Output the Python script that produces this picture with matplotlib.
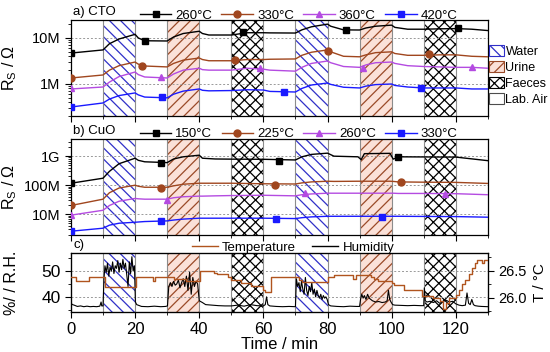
import numpy as np
import matplotlib
matplotlib.use('Agg')
import matplotlib.pyplot as plt
from matplotlib.patches import Patch
from matplotlib.lines import Line2D
from matplotlib.ticker import LogLocator, FuncFormatter, MultipleLocator, NullFormatter

plt.rcParams['font.family'] = ['Liberation Sans', 'DejaVu Sans']
plt.rcParams['mathtext.fontset'] = 'custom'
plt.rcParams['mathtext.rm'] = 'Liberation Sans'
plt.rcParams['mathtext.it'] = 'Liberation Sans:italic'
plt.rcParams['hatch.linewidth'] = 0.9

# ---------------- data ----------------
water_win = [(10, 20), (70, 80)]
urine_win = [(30, 40), (90, 100)]
faeces_win = [(50, 60), (110, 120)]

# panel a: CTO (resistance in Ohm, values in MOhm)
t_a = [0, 10, 12, 15, 20, 21, 23, 30, 32, 35, 40, 41, 43, 50, 55, 60, 62, 70, 72, 75,
       80, 81, 85, 90, 92, 95, 100, 101, 105, 110, 115, 120, 125, 130]
cto_260 = [4.7, 5.5, 7.5, 9.5, 12.0, 10.0, 8.7, 8.6, 10.5, 12.5, 14.0, 12.5, 11.6, 11.6, 13.0, 13.0, 12.9,
           12.8, 15.0, 17.5, 20.0, 18.0, 15.0, 14.9, 16.5, 18.0, 19.0, 17.0, 15.5, 15.5, 15.8, 16.0, 15.5, 14.5]
cto_330 = [1.35, 1.57, 2.0, 2.5, 3.0, 2.7, 2.46, 2.35, 2.8, 3.3, 3.67, 3.4, 3.2, 3.2, 3.4, 3.4, 3.45,
           3.5, 4.2, 4.9, 5.5, 5.0, 4.0, 3.9, 4.3, 4.8, 5.0, 4.6, 4.2, 4.2, 4.3, 4.3, 4.0, 3.9]
cto_360 = [0.78, 0.86, 1.1, 1.45, 1.82, 1.6, 1.42, 1.35, 1.65, 2.0, 2.2, 2.05, 2.0, 2.0, 2.2, 2.1, 2.0,
           1.9, 2.3, 2.8, 3.16, 2.9, 2.4, 2.3, 2.6, 2.9, 3.0, 2.8, 2.5, 2.4, 2.35, 2.3, 2.3, 2.2]
cto_420 = [0.316, 0.387, 0.47, 0.56, 0.64, 0.58, 0.52, 0.5, 0.6, 0.7, 0.78, 0.73, 0.71, 0.72, 0.75, 0.74, 0.69,
           0.67, 0.8, 0.95, 1.05, 0.98, 0.85, 0.82, 0.9, 0.97, 1.0, 0.93, 0.86, 0.82, 0.82, 0.82, 0.78, 0.78]
cto_labels = ['260°C', '330°C', '360°C', '420°C']
cto_mk_t = [[0, 23, 53.5, 85.7, 120.8], [0, 22, 51, 80, 111.5], [0, 28, 59, 91, 125], [0, 28.5, 66.5, 109]]
cto_mk_v = [[4.7, 8.7, 13.3, 14.6, 16.3], [1.35, 2.5, 3.3, 5.3, 4.4], [0.8, 1.45, 2.2, 2.26, 2.38],
            [0.32, 0.51, 0.66, 0.8]]

# panel b: CuO (values in MOhm)
t_b = [0, 10, 12, 15, 20, 21, 23, 30, 32, 35, 40, 41, 45, 50, 60, 70, 72, 75, 80, 82,
       89.5, 90.5, 91.5, 99.5, 100.5, 102, 110, 120, 130]
cuo_150 = [117, 174, 300, 550, 850, 720, 640, 600, 800, 950, 1080, 850, 800, 790, 780, 740, 950, 1150,
           1270, 1000, 950, 760, 1220, 1250, 790, 950, 940, 930, 700]
cuo_225 = [20, 33, 55, 80, 100, 92, 85, 85, 95, 108, 117, 117, 117, 117, 112, 110, 120, 130, 137, 135,
           137, 137, 137, 137, 135, 130, 127, 125, 115]
cuo_260 = [9.3, 13.7, 20, 28, 35, 34, 33, 33, 37, 40, 42, 42, 43, 44, 45, 43, 47, 50, 53, 53,
           53, 53, 53, 53, 53, 52, 52, 51, 47]
cuo_330 = [2.6, 3.3, 4.2, 4.9, 5.3, 5.4, 5.6, 5.9, 6.3, 6.8, 7.3, 7.3, 7.3, 7.3, 7.3, 7.1, 7.6, 8.1, 8.5, 8.5,
           8.5, 8.5, 8.5, 8.5, 8.5, 8.5, 8.4, 8.3, 7.9]
cuo_labels = ['150°C', '225°C', '260°C', '330°C']
cuo_mk_t = [[0, 28, 65, 102], [0, 28, 63.5, 103], [0, 30, 73, 116.5], [0, 28, 64, 97]]
cuo_mk_v = [[117, 590, 690, 950], [20, 83, 100, 130], [9.3, 32, 52, 48], [2.6, 5.7, 6.6, 8.2]]

# panel c: temperature (steps) and humidity
t_T = [0, 1.6, 5.5, 10.7, 20.3, 25.5, 26.2, 30.5, 32, 36, 40.3, 44.7, 45.5, 49, 50, 53, 56, 60, 60.5, 62.5,
       70, 71, 72, 80.3, 82, 88, 89, 93.6, 94.6, 95.7, 100, 100.7, 104, 109.6, 113, 115, 116, 117, 118, 120,
       121, 122, 123, 124, 125, 126, 126.5, 128.3, 128.8, 130]
temp = [26.38, 26.31, 26.38, 26.2, 26.38, 26.31, 26.38, 26.38, 26.35, 26.31, 26.5, 26.47, 26.44, 26.38, 26.33,
        26.28, 26.22, 26.15, 26.11, 26.38, 26.38, 26.33, 26.3, 26.38, 26.43, 26.35, 26.43, 26.38, 26.35, 26.31,
        26.28, 26.24, 26.15, 26.04, 26.0, 25.94, 25.8, 25.9, 26.0, 26.06, 26.15, 26.25, 26.33, 26.45, 26.55,
        26.65, 26.7, 26.65, 26.7, 26.7]
t_H = [0, 0.5, 1, 2, 3, 4, 5, 6, 7, 8, 9, 9.4, 9.6, 10,
       10.3, 10.6, 11, 11.4, 11.8, 12.2, 12.6, 13, 13.4, 13.8, 14.2, 14.6, 15, 15.4, 15.8, 16.2, 16.6, 17, 17.4,
       17.8, 18.2, 18.6, 19, 19.4, 19.8, 20.1,
       20.5, 22, 24, 26, 28, 29.5,
       30.1, 30.5, 31, 31.5, 32, 32.5, 33, 33.5, 34, 34.5, 35, 35.5, 36, 36.5, 37, 37.5, 38, 38.5, 39, 39.5, 40,
       41, 42, 44, 46, 48, 50,
       52, 54, 56, 58, 60,
       60.6, 61, 61.4, 62, 64, 66, 68, 70,
       70.3, 70.7, 71.1, 71.5, 71.9, 72.3, 72.7, 73.1, 73.5, 73.9, 74.3, 74.7, 75.1, 75.5, 75.9, 76.3, 76.7,
       77.1, 77.5, 77.9, 78.3, 78.7, 79.1, 79.5, 79.9, 80.3,
       81, 83, 85, 87, 89, 90,
       90.3, 90.7, 91.1, 91.5, 92, 92.5, 93, 93.5, 94, 95, 96, 97, 98, 98.6, 99, 99.4, 99.8, 100.3,
       101, 103, 105, 107, 109, 110,
       110.2, 110.5, 111, 112, 113, 114, 115, 116, 117, 118, 119, 120,
       121, 122, 123, 123.5, 124, 124.5, 125, 125.5, 126, 127, 128, 130]
hum = [37.5, 37, 36.8, 36.3, 36.5, 36.2, 36.4, 36.2, 36.3, 36.2, 36.4, 38, 36.5, 36.5,
       47, 52, 49.5, 53, 48, 51.5, 50, 53.5, 49, 52, 51, 54, 49.5, 53, 50.5, 54.5, 51, 53, 48.5,
       44, 53.5, 49, 55.5, 50, 52, 38,
       37, 36.3, 36.2, 36.4, 36.2, 36.3,
       36.5, 44, 45.5, 44, 46, 44.5, 45, 46.5, 43.5, 45.5, 47, 44, 48, 42.5, 49.5, 41, 47.5, 44, 46, 45, 38.5,
       37.8, 37, 36.8, 36.6, 36.5, 36.5,
       36.8, 36.4, 37, 36.6, 36.5,
       37, 40, 37, 36.5, 36.3, 36.2, 36.3, 36.2,
       47, 44, 45.5, 42, 46, 43, 41, 47.5, 42.5, 40.5, 44, 42, 45.5, 41, 43, 40, 42.5,
       40.5, 39.5, 41, 39, 40.5, 39.5, 40, 39, 37,
       36.5, 36.3, 36.2, 36.4, 36.3, 36.3,
       39, 41, 39.5, 40.5, 39, 41, 39.5, 39, 38.5, 38, 38.2, 37.8, 38, 38.5, 42.5, 39, 38, 37,
       36.8, 36.7, 36.6, 36.7, 36.6, 36.6,
       43.5, 38.5, 38, 38.3, 37.8, 38.5, 37.5, 38.2, 38.7, 38, 38.3, 37.3,
       36.8, 36.6, 36.8, 41.5, 37.5, 37, 39, 37, 36.6, 36.4, 36.3, 36.2]

colors = ['black', '#a0461e', '#b44be1', '#1a1aff']
markers = ['s', 'o', '^', 's']
WATER_H, URINE_H, FAECES_H = '\\\\\\', '///', 'xxx'

# ---------------- figure ----------------
fig = plt.figure(figsize=(5.5, 3.52), dpi=100)
L, W = 0.129, 0.758
ax_a = fig.add_axes([L, 0.670, W, 0.273])
ax_b = fig.add_axes([L, 0.332, W, 0.273])
ax_c = fig.add_axes([L, 0.114, W, 0.167])

def shade(ax):
    for a, b in water_win:
        ax.axvspan(a, b, facecolor='white', edgecolor='#3030c8', hatch=WATER_H, lw=0, zorder=0)
    for a, b in urine_win:
        ax.axvspan(a, b, facecolor='#fbe1d8', edgecolor='#9a4a28', hatch=URINE_H, lw=0, zorder=0)
    for a, b in faeces_win:
        ax.axvspan(a, b, facecolor='white', edgecolor='black', hatch=FAECES_H, lw=0, zorder=0)
    for a, b in water_win + urine_win + faeces_win:
        for x in (a, b):
            ax.axvline(x, color='0.55', lw=0.8, zorder=0.5)

def fmt_ohm(v, pos):
    if v >= 1e9:
        return '%gG' % (v / 1e9)
    if v >= 1e6:
        return '%gM' % (v / 1e6)
    if v >= 1e3:
        return '%gk' % (v / 1e3)
    return '%g' % v

for ax in (ax_a, ax_b, ax_c):
    shade(ax)
    ax.set_xlim(0, 130)
    ax.xaxis.set_major_locator(MultipleLocator(20))
    ax.xaxis.set_minor_locator(MultipleLocator(10))
    ax.tick_params(axis='both', which='both', direction='out')
    ax.tick_params(axis='x', which='major', length=4)
    ax.tick_params(axis='x', which='minor', length=2.5)
    for s in ax.spines.values():
        s.set_linewidth(0.9)

def log_axis(ax, lo, hi):
    ax.set_yscale('log')
    ax.set_ylim(lo, hi)
    ax.yaxis.set_major_locator(LogLocator(base=10, numticks=10))
    ax.yaxis.set_minor_locator(LogLocator(base=10, subs=np.arange(2, 10), numticks=10))
    ax.yaxis.set_major_formatter(FuncFormatter(fmt_ohm))
    ax.yaxis.set_minor_formatter(NullFormatter())
    ax.tick_params(axis='y', which='major', length=4, labelsize=10.5)
    ax.tick_params(axis='y', which='minor', length=2)
    ax.grid(True, axis='y', which='major', ls=(0, (2, 2)), color='0.6', lw=0.7)
    ax.set_axisbelow(True)
    ax.set_xticklabels([])

# panel a
for vals, lab, c, m, mt, mv in zip([cto_260, cto_330, cto_360, cto_420], cto_labels, colors, markers,
                                  cto_mk_t, cto_mk_v):
    ax_a.plot(t_a, np.array(vals) * 1e6, color=c, lw=1.0, zorder=3)
    ax_a.plot(mt, np.array(mv) * 1e6, ls='none', marker=m, color=c, ms=5, zorder=4)
log_axis(ax_a, 2.0e5, 2.45e7)
ax_a.set_ylabel(r'R$_\mathrm{S}$ / Ω', fontsize=11.5)
ax_a.yaxis.set_label_coords(-0.125, 0.5)
ax_a.text(0.005, 1.025, 'a) CTO', transform=ax_a.transAxes, fontsize=9.5, va='bottom', ha='left')
h_a = [Line2D([], [], color=c, marker=m, ms=5, lw=1.0) for c, m in zip(colors, markers)]
ax_a.legend(h_a, cto_labels, loc='lower left', bbox_to_anchor=(0.165, 0.985), ncol=4, frameon=False,
            fontsize=9.5, handlelength=2.4, handletextpad=0.3, columnspacing=0.7, borderpad=0,
            borderaxespad=0)

# panel b
for vals, lab, c, m, mt, mv in zip([cuo_150, cuo_225, cuo_260, cuo_330], cuo_labels, colors, markers,
                                  cuo_mk_t, cuo_mk_v):
    ax_b.plot(t_b, np.array(vals) * 1e6, color=c, lw=1.0, zorder=3)
    ax_b.plot(mt, np.array(mv) * 1e6, ls='none', marker=m, color=c, ms=5, zorder=4)
log_axis(ax_b, 10 ** 6.28, 10 ** 9.59)
ax_b.set_ylabel(r'R$_\mathrm{S}$ / Ω', fontsize=11.5)
ax_b.yaxis.set_label_coords(-0.125, 0.5)
ax_b.text(0.005, 1.025, 'b) CuO', transform=ax_b.transAxes, fontsize=9.5, va='bottom', ha='left')
h_b = [Line2D([], [], color=c, marker=m, ms=5, lw=1.0) for c, m in zip(colors, markers)]
ax_b.legend(h_b, cuo_labels, loc='lower left', bbox_to_anchor=(0.165, 0.985), ncol=4, frameon=False,
            fontsize=9.5, handlelength=2.4, handletextpad=0.3, columnspacing=0.7, borderpad=0,
            borderaxespad=0)

# panel c
ax_c.plot(t_H, hum, color='black', lw=0.8, zorder=3)
ax_c.set_ylim(34.2, 56.9)
ax_c.yaxis.set_major_locator(MultipleLocator(10))
ax_c.yaxis.set_minor_locator(MultipleLocator(5))
ax_c.tick_params(axis='y', which='major', length=4, labelsize=12.5)
ax_c.tick_params(axis='y', which='minor', length=2)
ax_c.tick_params(axis='x', labelsize=12)
ax_c.grid(True, axis='y', which='major', ls=(0, (2, 2)), color='0.6', lw=0.7)
ax_c.set_ylabel('%/ / R.H.', fontsize=11.5)
ax_c.yaxis.set_label_coords(-0.125, 0.5)
ax_c.set_xlabel('Time / min', fontsize=12, labelpad=0)
ax_c.text(0.005, 1.03, 'c)', transform=ax_c.transAxes, fontsize=9.5, va='bottom', ha='left')

ax_t = ax_c.twinx()
ax_t.plot(t_T, temp, color='#b0541e', lw=1.0, drawstyle='steps-post', zorder=3)
ax_t.set_ylim(25.74, 26.83)
ax_t.yaxis.set_major_locator(MultipleLocator(0.5))
ax_t.yaxis.set_minor_locator(MultipleLocator(0.25))
ax_t.yaxis.set_major_formatter(FuncFormatter(lambda v, p: '%.1f' % v))
ax_t.tick_params(axis='y', which='major', length=4, labelsize=10.5, direction='out')
ax_t.tick_params(axis='y', which='minor', length=2, direction='out')
ax_t.set_ylabel('T / °C', fontsize=11)
ax_t.yaxis.set_label_coords(1.108, 0.5)
h_c = [Line2D([], [], color='#b0541e', lw=1.0), Line2D([], [], color='black', lw=1.0)]
ax_c.legend(h_c, ['Temperature', 'Humidity'], loc='lower left', bbox_to_anchor=(0.29, 0.985), ncol=2,
            frameon=False, fontsize=9.5, handlelength=2.0, handletextpad=0.3, columnspacing=1.2,
            borderpad=0, borderaxespad=0)

# pattern legend
h_p = [Patch(facecolor='white', edgecolor='#3030c8', hatch=WATER_H),
       Patch(facecolor='#fbe1d8', edgecolor='#9a4a28', hatch=URINE_H),
       Patch(facecolor='white', edgecolor='black', hatch=FAECES_H),
       Patch(facecolor='white', edgecolor='0.3')]
leg = fig.legend(h_p, ['Water', 'Urine', 'Faeces', 'Lab. Air'], loc='upper left',
                 bbox_to_anchor=(0.889, 0.872), frameon=False, fontsize=9, handlelength=1.2,
                 handleheight=1.0, handletextpad=0.12, labelspacing=0.25, borderpad=0, borderaxespad=0)
for p in leg.get_patches():
    p.set_linewidth(0.8)

fig.savefig('out.png', dpi=100)
